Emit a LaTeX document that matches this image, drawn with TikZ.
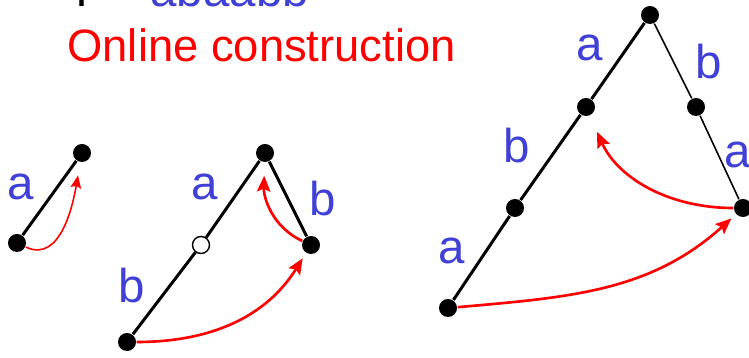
\documentclass[tikz,border=0pt]{standalone}
\usepackage{fontspec}
\setmainfont{Liberation Sans}
\usetikzlibrary{arrows.meta,positioning}
\definecolor{lblue}{RGB}{64,64,215}
\newcommand{\lblfont}{\fontsize{13.5}{16}\selectfont}
\newcommand{\ttlfont}{\fontsize{12.9}{15}\selectfont}

\begin{document}
\begin{tikzpicture}[x=0.01cm,y=0.01cm,
  dot/.style={circle,fill=black,inner sep=0pt,minimum size=0.18cm},
  odot/.style={circle,draw=black,fill=white,line width=0.4pt,inner sep=0pt,minimum size=0.17cm},
  lab/.style={text=lblue,font=\lblfont,inner sep=0pt},
  thickedge/.style={line width=0.85pt},
  thinedge/.style={line width=0.45pt},
  sfx/.style={red,line width=0.75pt,-{Stealth[length=4.5pt,width=3.8pt,inset=0.8pt]}}]
\useasboundingbox (0,0) rectangle (749,358);
\node[anchor=base west,font=\lblfont] (tt) at (55,351) {T = \textcolor{lblue}{abaabb}};
\node[anchor=base west,font=\ttlfont,text=red] (oc) at (55,296) {Online construction};
% a
\node[dot] (t1b) at (17,115) {};
\node[dot] (t1t) at (82,205) {};
\draw[thickedge] (t1b) -- (t1t);
\draw[sfx,line width=0.45pt,-{Stealth[length=3.6pt,width=3pt,inset=0.6pt]},shorten >=3.7pt] (t1b) to[out=-25,in=-100] (t1t);
\node[lab] (l1a) at (21,171) {a};
% ab
\node[dot] (t2t) at (265,205) {};
\node[odot] (t2m) at (201,113) {};
\node[dot] (t2b) at (127,16) {};
\node[dot] (t2r) at (311,113) {};
\draw[thickedge] (t2t) -- (t2m) -- (t2b);
\draw[thickedge] (t2t) -- (t2r);
\draw[sfx,shorten >=3.7pt] (t2r) to[out=155,in=-92] (t2t);
\draw[sfx,shorten >=1.7pt] (t2b) to[out=0,in=-122] (t2r);
\node[lab] (l2a) at (205,171) {a};
\node[lab] (l2b) at (323,159) {b};
\node[lab] (l2c) at (132,72) {b};
% abaab
\node[dot] (t3t) at (650,343) {};
\node[dot] (t3l1) at (586,251) {};
\node[dot] (t3l2) at (515,150) {};
\node[dot] (t3b) at (448,50) {};
\node[dot] (t3r1) at (696,251) {};
\node[dot] (t3r2) at (743,150) {};
\draw[thickedge] (t3t) -- (t3l1) -- (t3l2) -- (t3b);
\draw[thinedge] (t3t) -- (t3r1) -- (t3r2);
\draw[sfx,shorten >=5pt] (t3r2) to[out=180,in=-66] (t3l1);
\draw[sfx,shorten >=1.7pt] (t3b) to[out=5,in=-138] (t3r2);
\node[lab] (l3a) at (590,310) {a};
\node[lab] (l3b) at (709,296) {b};
\node[lab] (l3c) at (517,212) {b};
\node[lab] (l3d) at (452,107) {a};
\node[lab] (l3e) at (738,203) {a};
\end{tikzpicture}
\end{document}
